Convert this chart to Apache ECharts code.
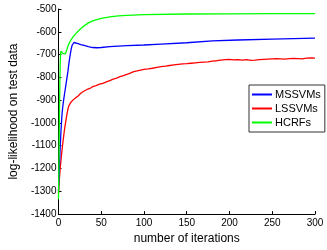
<!DOCTYPE html>
<html>
<head>
<meta charset="utf-8">
<script src="https://cdn.jsdelivr.net/npm/echarts@6/dist/echarts.min.js"></script>
<style>html,body{margin:0;padding:0;background:#fff}#c{width:327px;height:250px}</style>
</head>
<body>
<div id="c"></div>
<script>
var xTicks = [0, 50, 100, 150, 200, 250, 300];
var yTicks = [-1400, -1300, -1200, -1100, -1000, -900, -800, -700, -600, -500];

var msX = [0,1,2,3,4,5,6,7,8,9,10,11,12,13,14,15,16,17,18,20,23,26,30,35,40,45,50,60,70,80,100,120,150,180,210,250,300];
var msY = [-1300,-1200,-1110,-1030,-968,-930,-900,-875,-850,-825,-800,-775,-745,-718,-695,-673,-659,-651,-647,-648,-652,-656,-660,-665,-669,-670,-669,-665,-663,-661,-658,-654,-648,-640,-636,-632,-628];

var lsX = [0,1,2,3,4,5,6,7,8,9,10,11,12,14,16,18,20,23,26,29,31,34,37,40,44,48,52,56,60,64,68,72,76,80,84,88,92,96,100,105,110,115,120,125,130,135,140,145,150,155,160,165,170,175,180,185,190,195,200,205,210,215,220,225,230,235,240,245,250,255,260,265,270,275,280,285,290,295,300];
var lsY = [-1310,-1250,-1200,-1160,-1125,-1090,-1060,-1030,-1005,-982,-960,-940,-926,-912,-903,-896,-890,-882,-870,-862,-855,-852,-848,-841,-836,-830,-826,-820,-814,-808,-803,-797,-792,-787,-781,-775,-772,-768,-765,-763,-760,-756,-753,-751,-748,-745,-743,-741,-740,-738,-736,-734,-733,-732,-729,-727,-724,-722,-721,-723,-722,-724,-722,-725,-724,-722,-721,-720,-719,-718,-719,-720,-718,-717,-718,-719,-716,-715,-716];

var hcX = [0,0.5,1,1.5,2,2.5,3,3.5,4,5,6,7,8,9,10,11,12,13,14,16,18,20,25,30,35,40,50,60,70,80,100,150,200,250,300];
var hcY = [-1335,-1200,-1000,-850,-740,-695,-685,-684,-688,-695,-700,-701,-697,-688,-676,-664,-655,-646,-639,-628,-618,-609,-590,-574,-561,-552,-541,-535,-530,-528,-525,-522,-521,-520,-520];

function pairs(xs, ys) { return xs.map(function (x, i) { return [x, ys[i]]; }); }

var font = 'Liberation Sans, Arial, Helvetica, sans-serif';
var chart = echarts.init(document.getElementById('c'), null, { renderer: 'canvas' });
chart.setOption({
  animation: false,
  backgroundColor: '#fff',
  grid: { left: 48, right: 12, top: 9, bottom: 30, containLabel: false },
  xAxis: {
    type: 'value', min: xTicks[0], max: xTicks[xTicks.length - 1], interval: 50,
    name: 'number of iterations', nameLocation: 'middle', nameGap: 16,
    nameTextStyle: { fontFamily: font, fontSize: 12, color: '#000' },
    axisLine: { show: true, lineStyle: { color: '#000', width: 1 } },
    axisTick: { show: true, inside: true, length: 3, lineStyle: { color: '#000' } },
    axisLabel: { fontFamily: font, fontSize: 10, color: '#000', margin: 4, formatter: function (v) { return String(v); } },
    splitLine: { show: false }
  },
  yAxis: {
    type: 'value', min: yTicks[0], max: yTicks[yTicks.length - 1], interval: 100,
    name: 'log-likelihood on test data', nameLocation: 'middle', nameGap: 30,
    nameTextStyle: { fontFamily: font, fontSize: 12, color: '#000' },
    axisLine: { show: true, lineStyle: { color: '#000', width: 1 } },
    axisTick: { show: true, inside: true, length: 3, lineStyle: { color: '#000' } },
    axisLabel: { fontFamily: font, fontSize: 10, color: '#000', margin: 2, formatter: function (v) { return String(v); } },
    splitLine: { show: false }
  },
  legend: {
    left: 249, top: 85, orient: 'vertical',
    backgroundColor: '#fff', borderColor: '#333', borderWidth: 1, borderRadius: 0,
    padding: [4, 4, 4, 3], itemGap: 3, itemWidth: 20, itemHeight: 2,
    icon: 'rect',
    textStyle: { fontFamily: font, fontSize: 11, color: '#000', padding: [0, 0, 0, -2] },
    data: ['MSSVMs', 'LSSVMs', 'HCRFs']
  },
  series: [
    { name: 'MSSVMs', type: 'line', data: pairs(msX, msY), showSymbol: false, color: '#0000ff', lineStyle: { width: 1.3, color: '#0000ff' }, z: 3 },
    { name: 'LSSVMs', type: 'line', data: pairs(lsX, lsY), showSymbol: false, color: '#ff0000', lineStyle: { width: 1.3, color: '#ff0000' }, z: 2 },
    { name: 'HCRFs', type: 'line', data: pairs(hcX, hcY), showSymbol: false, color: '#00ff00', lineStyle: { width: 1.3, color: '#00ff00' }, z: 4 }
  ]
});
</script>
</body>
</html>
